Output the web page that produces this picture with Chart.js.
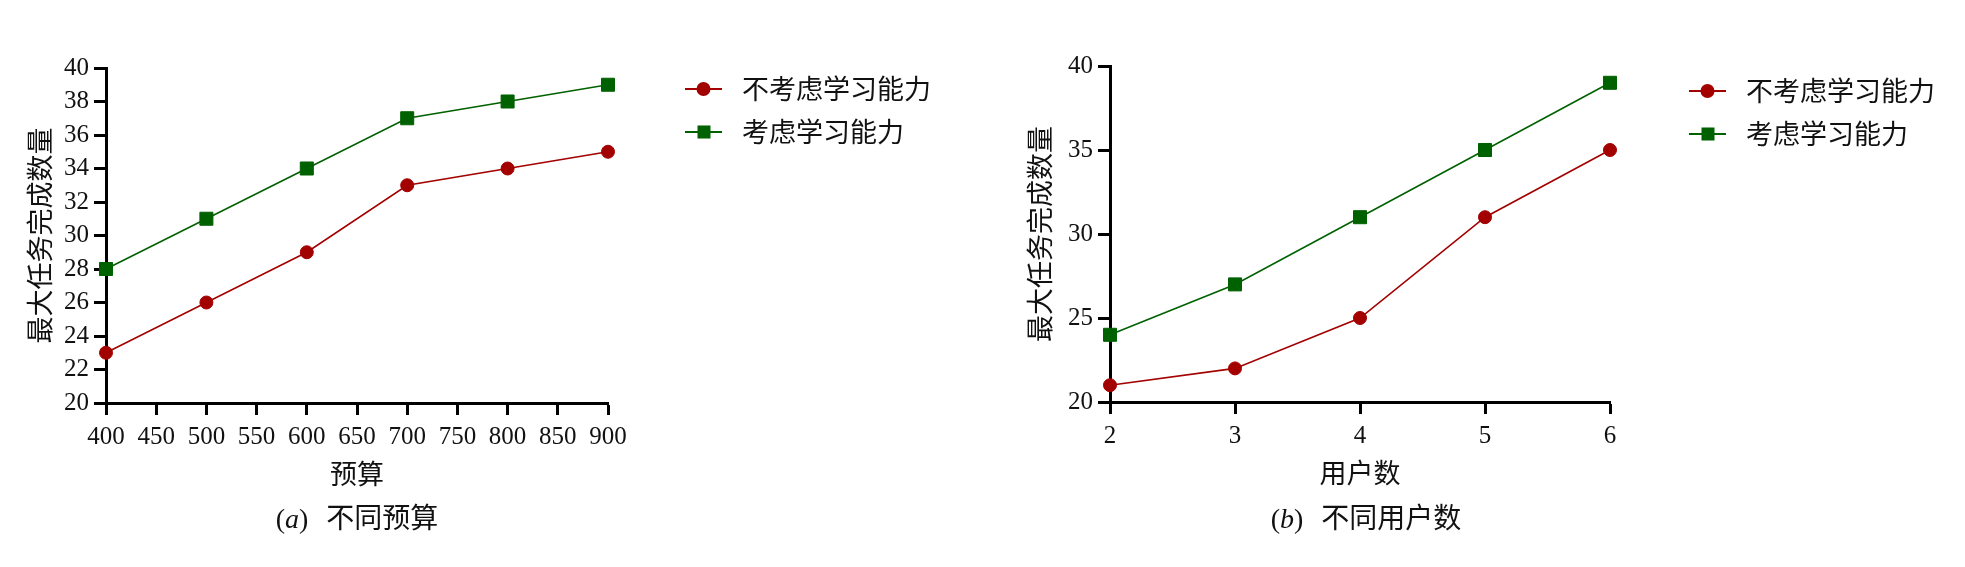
<!DOCTYPE html>
<html>
<head>
<meta charset="utf-8">
<script src="https://cdn.jsdelivr.net/npm/chart.js@4/dist/chart.umd.min.js"></script>
<style>
  body { margin: 0; width: 1965px; height: 567px; background: #fff; position: relative; overflow: hidden; }
  canvas { position: absolute; top: 0; }
  .cap { position: absolute; top: 496px; width: 400px; text-align: center; font: 28px "Noto Sans CJK SC"; color: #111; }
  .cap .p { font-family: "Liberation Serif"; margin-right: 18px; }
</style>
</head>
<body>
<canvas id="budgetChart" width="980" height="500" style="left:0"></canvas>
<canvas id="userChart" width="965" height="500" style="left:1000px"></canvas>
<div class="cap" style="left:157px"><span class="p">(<i>a</i>)</span>不同预算</div>
<div class="cap" style="left:1166px"><span class="p">(<i>b</i>)</span>不同用户数</div>

<script>
// ================= DATA =================
const seriesNames = ["不考虑学习能力", "考虑学习能力"];

const budgets = [400, 500, 600, 700, 800, 900];
const budgetNoLearn = [23, 26, 29, 33, 34, 35];
const budgetLearn = [28, 31, 34, 37, 38, 39];

const users = [2, 3, 4, 5, 6];
const usersNoLearn = [21, 22, 25, 31, 35];
const usersLearn = [24, 27, 31, 35, 39];

const RED = "#a30000";
const GREEN = "#006100";
const CJK = "Noto Sans CJK SC";
const SERIF = "Liberation Serif";


// ================= LEGEND (line + marker, right of plot) =================
const sideLegend = {
  id: "sideLegend",
  afterDraw(chart, args, opts) {
    const ctx = chart.ctx;
    const area = chart.chartArea;
    ctx.save();
    chart.data.datasets.forEach((ds, i) => {
      const x = area.right + opts.dx;
      const y = area.top + opts.dy + i * opts.gap;
      ctx.strokeStyle = ds.borderColor;
      ctx.lineWidth = 2;
      ctx.beginPath();
      ctx.moveTo(x, y);
      ctx.lineTo(x + 37, y);
      ctx.stroke();
      ctx.fillStyle = ds.pointBackgroundColor;
      if (ds.pointStyle === "rect") {
        ctx.fillRect(x + 12.5, y - 6.5, 13, 13);
      } else {
        ctx.beginPath();
        ctx.arc(x + 18.5, y, 7, 0, Math.PI * 2);
        ctx.fill();
      }
      ctx.fillStyle = "#111";
      ctx.font = '27px "' + CJK + '"';
      ctx.textBaseline = "middle";
      ctx.fillText(ds.label, x + 57, y);
    });
    ctx.restore();
  }
};


// ================= CHART =================
function makeChart(id, xs, noLearn, learn, cfg) {
  const pts = vals => vals.map((v, i) => ({ x: xs[i], y: v }));

  return new Chart(document.getElementById(id), {
    type: "line",
    data: {
      datasets: [{
        label: seriesNames[0],
        data: pts(noLearn),
        borderColor: RED,
        borderWidth: 1.6,
        pointStyle: "circle",
        pointRadius: 6.5,
        pointBorderWidth: 1,
        pointBackgroundColor: RED,
        pointBorderColor: RED,
        clip: false
      }, {
        label: seriesNames[1],
        data: pts(learn),
        borderColor: GREEN,
        borderWidth: 1.6,
        pointStyle: "rect",
        pointRadius: 9.2,
        pointBorderWidth: 1,
        pointBackgroundColor: GREEN,
        pointBorderColor: GREEN,
        clip: false
      }]
    },
    options: {
      responsive: false,
      animation: false,
      devicePixelRatio: 1,
      layout: { padding: cfg.padding },
      plugins: {
        legend: { display: false },
        tooltip: { enabled: false },
        sideLegend: cfg.legend
      },
      scales: {
        x: {
          type: "linear",
          min: cfg.xMin,
          max: cfg.xMax,
          ticks: { stepSize: cfg.xStep, padding: 7, color: "#111", font: { family: SERIF, size: 25 } },
          grid: { drawOnChartArea: false, tickLength: 12, tickWidth: 3, tickColor: "#000" },
          border: { display: true, width: 3, color: "#000" },
          title: { display: true, text: cfg.xTitle, color: "#111", padding: 0, font: { family: CJK, size: 27 } },
          afterFit: s => { s.height = 87; }
        },
        y: {
          min: 20,
          max: 40,
          ticks: { stepSize: cfg.yStep, padding: 5, color: "#111", font: { family: SERIF, size: 25 } },
          grid: { drawOnChartArea: false, tickLength: 12, tickWidth: 3, tickColor: "#000" },
          border: { display: true, width: 3, color: "#000" },
          title: { display: true, text: "最大任务完成数量", color: "#111", padding: { top: 24, bottom: 0 }, font: { family: CJK, size: 27 } },
          afterFit: s => { s.width = cfg.yWidth; }
        }
      }
    },
    plugins: [sideLegend]
  });
}

makeChart("budgetChart", budgets, budgetNoLearn, budgetLearn, {
  xMin: 400, xMax: 900, xStep: 50, yStep: 2,
  xTitle: "预算",
  yWidth: 106,
  padding: { left: 0, top: 68, right: 372, bottom: 10 },
  legend: { dx: 77, dy: 21, gap: 43 }
});

makeChart("userChart", users, usersNoLearn, usersLearn, {
  xMin: 2, xMax: 6, xStep: 1, yStep: 5,
  xTitle: "用户数",
  yWidth: 110,
  padding: { left: 0, top: 66, right: 355, bottom: 11 },
  legend: { dx: 79, dy: 25, gap: 43 }
});
</script>
</body>
</html>
